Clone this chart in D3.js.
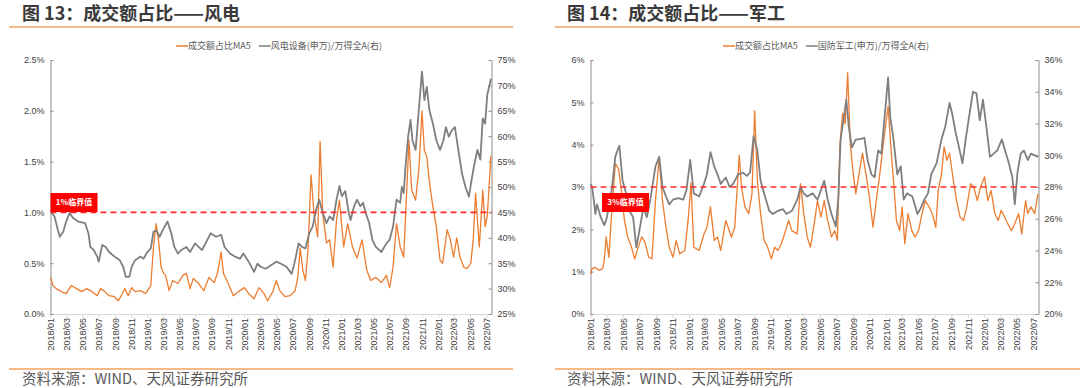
<!DOCTYPE html>
<html>
<head>
<meta charset="utf-8">
<script src="https://cdn.jsdelivr.net/npm/d3@7"></script>
<style>
body { margin: 0; background: #fff; }
svg { display: block; font-family: "Noto Sans CJK SC", "Noto Sans", sans-serif; }
</style>
</head>
<body>
<svg id="chart" width="1080" height="388"></svg>
<script>
const ORANGE = "#ED7D31"
const GRAY = "#7F7F7F"
const SOURCE_TEXT = "资料来源：WIND、天风证券研究所"
const TURNOVER_LABEL = "成交额占比MA5"

// 图13 风电: 成交额占比MA5 (%)
const windTurnover = [
  ["2018-01-02", 0.36], ["2018-01-10", 0.28], ["2018-01-22", 0.25], ["2018-02-11", 0.22], ["2018-03-01", 0.20],
  ["2018-03-20", 0.28], ["2018-04-09", 0.25], ["2018-04-28", 0.22], ["2018-05-18", 0.25], ["2018-06-07", 0.22],
  ["2018-06-26", 0.18], ["2018-07-09", 0.25], ["2018-07-21", 0.23], ["2018-08-10", 0.18], ["2018-08-30", 0.17],
  ["2018-09-13", 0.13], ["2018-09-25", 0.18], ["2018-10-08", 0.25], ["2018-10-21", 0.18], ["2018-11-03", 0.26],
  ["2018-11-16", 0.22], ["2018-12-06", 0.23], ["2018-12-25", 0.20], ["2019-01-14", 0.28], ["2019-01-24", 0.66],
  ["2019-02-03", 0.89], ["2019-02-12", 0.73], ["2019-02-22", 0.46], ["2019-03-03", 0.40], ["2019-03-11", 0.38],
  ["2019-03-24", 0.23], ["2019-04-07", 0.33], ["2019-04-26", 0.30], ["2019-05-15", 0.38], ["2019-05-28", 0.40],
  ["2019-06-11", 0.25], ["2019-06-23", 0.35], ["2019-07-13", 0.30], ["2019-08-02", 0.23], ["2019-08-21", 0.36],
  ["2019-09-10", 0.31], ["2019-09-23", 0.41], ["2019-10-06", 0.61], ["2019-10-15", 0.40], ["2019-11-02", 0.30],
  ["2019-11-21", 0.18], ["2019-12-10", 0.22], ["2020-01-02", 0.26], ["2020-01-18", 0.20], ["2020-02-07", 0.15],
  ["2020-02-26", 0.26], ["2020-03-16", 0.20], ["2020-03-29", 0.13], ["2020-04-18", 0.22], ["2020-05-01", 0.33],
  ["2020-05-14", 0.23], ["2020-06-03", 0.17], ["2020-06-22", 0.18], ["2020-07-11", 0.23], ["2020-07-21", 0.36],
  ["2020-07-30", 0.65], ["2020-08-09", 0.43], ["2020-08-19", 0.33], ["2020-08-29", 0.66], ["2020-09-09", 1.37],
  ["2020-09-21", 0.96], ["2020-10-04", 0.76], ["2020-10-13", 1.70], ["2020-10-23", 0.99], ["2020-11-06", 0.70],
  ["2020-11-18", 0.73], ["2020-12-01", 0.46], ["2020-12-14", 0.93], ["2020-12-25", 1.12], ["2021-01-10", 0.66],
  ["2021-01-25", 0.89], ["2021-02-12", 0.66], ["2021-03-01", 0.55], ["2021-03-20", 0.73], ["2021-04-07", 0.43],
  ["2021-04-22", 0.33], ["2021-05-11", 0.36], ["2021-06-01", 0.31], ["2021-06-20", 0.38], ["2021-07-02", 0.26],
  ["2021-07-15", 0.46], ["2021-07-28", 0.89], ["2021-08-11", 0.66], ["2021-08-24", 0.56], ["2021-09-03", 1.13],
  ["2021-09-13", 1.71], ["2021-09-23", 1.22], ["2021-10-08", 1.12], ["2021-10-21", 1.45], ["2021-11-01", 2.00],
  ["2021-11-10", 1.61], ["2021-11-19", 1.55], ["2021-11-29", 1.30], ["2021-12-12", 1.06], ["2021-12-25", 0.86],
  ["2022-01-08", 0.53], ["2022-01-18", 0.50], ["2022-02-04", 0.83], ["2022-02-16", 0.73], ["2022-02-28", 0.56],
  ["2022-03-12", 0.75], ["2022-03-24", 0.56], ["2022-04-08", 0.46], ["2022-04-20", 0.45], ["2022-05-04", 0.50],
  ["2022-05-13", 0.73], ["2022-05-22", 1.19], ["2022-06-05", 0.66], ["2022-06-18", 1.22], ["2022-06-27", 0.86],
  ["2022-07-05", 0.96], ["2022-07-19", 1.56]
]

// 图13 风电设备(申万)/万得全A (%)
const windRatio = [
  ["2018-01-02", 45.2], ["2018-01-16", 44.2], ["2018-01-29", 41.5], ["2018-02-05", 40.2], ["2018-02-18", 41.2],
  ["2018-03-01", 43.2], ["2018-03-14", 44.9], ["2018-03-27", 43.9], ["2018-04-16", 43.2], ["2018-05-11", 42.9],
  ["2018-05-24", 40.9], ["2018-05-31", 38.2], ["2018-06-13", 37.6], ["2018-06-26", 36.3], ["2018-07-02", 35.3],
  ["2018-07-15", 38.6], ["2018-07-28", 38.2], ["2018-08-10", 37.2], ["2018-08-30", 36.3], ["2018-09-19", 35.6],
  ["2018-10-02", 34.3], ["2018-10-12", 32.3], ["2018-10-25", 32.3], ["2018-11-03", 34.3], ["2018-11-16", 35.6],
  ["2018-12-06", 36.3], ["2018-12-18", 35.9], ["2019-01-01", 37.2], ["2019-01-14", 37.9], ["2019-01-24", 41.2],
  ["2019-02-03", 41.5], ["2019-02-16", 40.2], ["2019-02-28", 41.5], ["2019-03-18", 43.2], ["2019-04-01", 40.9],
  ["2019-04-13", 38.2], ["2019-04-26", 36.9], ["2019-05-09", 37.6], ["2019-05-28", 38.2], ["2019-06-11", 37.2],
  ["2019-06-30", 38.9], ["2019-07-13", 38.2], ["2019-07-26", 37.6], ["2019-08-15", 39.6], ["2019-08-28", 40.9],
  ["2019-09-17", 40.2], ["2019-10-06", 40.6], ["2019-10-19", 38.2], ["2019-11-08", 36.9], ["2019-11-27", 36.3],
  ["2019-12-16", 35.9], ["2019-12-29", 36.9], ["2020-01-18", 35.3], ["2020-02-07", 33.3], ["2020-02-20", 34.9],
  ["2020-03-03", 34.3], ["2020-03-22", 33.9], ["2020-04-11", 34.6], ["2020-05-01", 35.3], ["2020-05-19", 34.9],
  ["2020-06-08", 34.3], ["2020-06-28", 32.9], ["2020-07-11", 35.6], ["2020-07-24", 38.9], ["2020-08-06", 38.2],
  ["2020-08-19", 37.9], ["2020-09-02", 40.9], ["2020-09-15", 42.2], ["2020-09-28", 45.5], ["2020-10-10", 47.5],
  ["2020-10-23", 44.9], ["2020-11-06", 42.9], ["2020-11-18", 44.2], ["2020-12-01", 43.5], ["2020-12-14", 47.5],
  ["2020-12-25", 50.2], ["2021-01-03", 48.2], ["2021-01-16", 49.2], ["2021-01-29", 44.9], ["2021-02-05", 43.5],
  ["2021-02-18", 46.2], ["2021-03-01", 47.5], ["2021-03-14", 46.2], ["2021-03-24", 46.9], ["2021-04-03", 44.9],
  ["2021-04-16", 42.9], ["2021-04-28", 39.6], ["2021-05-11", 38.2], ["2021-06-01", 37.2], ["2021-06-20", 38.9],
  ["2021-07-02", 39.6], ["2021-07-15", 42.2], ["2021-07-28", 47.5], ["2021-08-11", 46.9], ["2021-08-17", 50.0],
  ["2021-08-24", 48.8], ["2021-08-31", 54.0], ["2021-09-10", 60.0], ["2021-09-19", 63.2], ["2021-09-26", 59.2],
  ["2021-10-08", 57.3], ["2021-10-21", 65.8], ["2021-11-01", 72.7], ["2021-11-10", 67.1], ["2021-11-19", 69.7],
  ["2021-11-29", 65.1], ["2021-12-12", 62.5], ["2021-12-25", 59.2], ["2022-01-08", 57.3], ["2022-01-21", 59.2],
  ["2022-01-30", 61.8], ["2022-02-10", 59.9], ["2022-02-22", 61.2], ["2022-03-05", 61.8], ["2022-03-18", 57.3],
  ["2022-04-01", 52.6], ["2022-04-14", 50.0], ["2022-04-27", 48.1], ["2022-05-05", 50.8], ["2022-05-16", 54.1],
  ["2022-05-29", 57.3], ["2022-06-09", 55.4], ["2022-06-18", 63.5], ["2022-06-27", 62.5], ["2022-07-05", 68.1],
  ["2022-07-19", 71.3]
]

// 图14 军工: 成交额占比MA5 (%)
const milTurnover = [
  ["2018-01-02", 0.95], ["2018-01-07", 1.07], ["2018-01-19", 1.10], ["2018-02-02", 1.03], ["2018-02-15", 1.07],
  ["2018-02-21", 1.26], ["2018-02-28", 1.82], ["2018-03-10", 1.34], ["2018-03-22", 2.53], ["2018-04-03", 3.55],
  ["2018-04-15", 3.43], ["2018-04-24", 3.00], ["2018-05-07", 2.21], ["2018-05-19", 1.82], ["2018-06-02", 1.58],
  ["2018-06-14", 1.30], ["2018-06-27", 1.58], ["2018-07-10", 1.82], ["2018-07-22", 1.70], ["2018-08-05", 1.34],
  ["2018-08-17", 1.30], ["2018-08-30", 2.68], ["2018-09-13", 3.71], ["2018-09-25", 2.68], ["2018-10-08", 2.05],
  ["2018-10-20", 1.58], ["2018-11-03", 1.34], ["2018-11-15", 1.74], ["2018-11-28", 1.42], ["2018-12-17", 1.50],
  ["2018-12-29", 2.21], ["2019-01-09", 3.10], ["2019-01-19", 1.58], ["2019-02-08", 1.50], ["2019-02-26", 1.89],
  ["2019-03-09", 2.05], ["2019-03-22", 2.53], ["2019-04-05", 1.74], ["2019-04-17", 1.82], ["2019-04-29", 1.50],
  ["2019-05-18", 2.21], ["2019-06-08", 1.82], ["2019-06-20", 2.05], ["2019-07-07", 3.75], ["2019-07-15", 3.00],
  ["2019-07-28", 2.53], ["2019-08-11", 2.37], ["2019-08-23", 2.84], ["2019-09-02", 4.80], ["2019-09-12", 3.16],
  ["2019-09-24", 2.37], ["2019-10-07", 1.74], ["2019-10-20", 1.58], ["2019-11-03", 1.30], ["2019-11-15", 1.58],
  ["2019-11-27", 1.50], ["2019-12-10", 1.66], ["2019-12-22", 1.89], ["2020-01-06", 2.21], ["2020-01-18", 1.97],
  ["2020-02-07", 1.89], ["2020-02-19", 3.08], ["2020-03-02", 2.37], ["2020-03-15", 1.82], ["2020-03-27", 1.58],
  ["2020-04-10", 2.13], ["2020-04-22", 2.68], ["2020-05-05", 2.29], ["2020-05-17", 2.68], ["2020-05-30", 2.21],
  ["2020-06-13", 1.82], ["2020-06-25", 1.97], ["2020-07-05", 1.74], ["2020-07-14", 3.95], ["2020-07-24", 4.74],
  ["2020-08-03", 4.50], ["2020-08-12", 5.70], ["2020-08-22", 4.00], ["2020-09-02", 3.30], ["2020-09-11", 2.84],
  ["2020-09-23", 3.30], ["2020-10-06", 3.80], ["2020-10-19", 3.30], ["2020-11-01", 2.76], ["2020-11-14", 2.05],
  ["2020-11-26", 2.68], ["2020-12-09", 3.30], ["2020-12-21", 3.95], ["2021-01-09", 4.90], ["2021-01-21", 3.80],
  ["2021-01-29", 3.16], ["2021-02-09", 2.21], ["2021-02-21", 1.97], ["2021-03-02", 2.53], ["2021-03-12", 1.66],
  ["2021-03-24", 2.37], ["2021-04-07", 1.97], ["2021-04-19", 1.82], ["2021-05-02", 1.97], ["2021-05-15", 2.37],
  ["2021-05-27", 2.68], ["2021-06-10", 2.53], ["2021-06-22", 2.37], ["2021-07-05", 2.05], ["2021-07-14", 2.92],
  ["2021-07-26", 3.30], ["2021-08-05", 3.95], ["2021-08-15", 3.63], ["2021-08-25", 3.80], ["2021-09-08", 3.16],
  ["2021-09-20", 2.68], ["2021-10-03", 2.29], ["2021-10-16", 2.21], ["2021-10-28", 2.53], ["2021-11-11", 3.08],
  ["2021-11-23", 3.00], ["2021-12-06", 2.68], ["2021-12-18", 3.00], ["2022-01-02", 3.24], ["2022-01-14", 2.68],
  ["2022-01-26", 2.92], ["2022-02-09", 2.37], ["2022-02-21", 2.21], ["2022-03-05", 2.45], ["2022-03-17", 2.29],
  ["2022-03-29", 2.13], ["2022-04-12", 1.97], ["2022-04-24", 2.13], ["2022-05-08", 2.37], ["2022-05-20", 1.89],
  ["2022-06-03", 2.68], ["2022-06-11", 2.37], ["2022-06-23", 2.53], ["2022-07-07", 2.37], ["2022-07-19", 2.84]
]

// 图14 国防军工(申万)/万得全A (%)
const milRatio = [
  ["2018-01-02", 28.2], ["2018-01-07", 28.0], ["2018-01-13", 27.2], ["2018-01-19", 26.3], ["2018-01-25", 26.9],
  ["2018-02-08", 26.1], ["2018-02-21", 25.6], ["2018-02-28", 25.9], ["2018-03-10", 26.7], ["2018-03-22", 28.0],
  ["2018-04-03", 29.9], ["2018-04-11", 30.3], ["2018-04-18", 30.6], ["2018-04-24", 29.5], ["2018-04-30", 28.4],
  ["2018-05-13", 27.6], ["2018-05-25", 26.5], ["2018-06-08", 26.1], ["2018-06-20", 24.2], ["2018-07-04", 25.5],
  ["2018-07-16", 26.7], ["2018-07-29", 26.1], ["2018-08-11", 27.2], ["2018-08-30", 29.3], ["2018-09-13", 29.9],
  ["2018-09-25", 28.0], ["2018-10-08", 27.4], ["2018-10-20", 26.9], ["2018-11-03", 27.2], ["2018-11-22", 27.3],
  ["2018-12-11", 27.2], ["2018-12-23", 27.8], ["2019-01-06", 29.7], ["2019-01-19", 27.6], ["2019-02-08", 27.4],
  ["2019-02-26", 28.2], ["2019-03-09", 28.8], ["2019-03-22", 30.2], ["2019-04-05", 29.3], ["2019-04-17", 28.8],
  ["2019-04-29", 28.2], ["2019-05-18", 28.6], ["2019-06-01", 28.0], ["2019-06-14", 28.2], ["2019-07-03", 28.8],
  ["2019-07-21", 28.9], ["2019-08-04", 28.7], ["2019-08-16", 28.9], ["2019-08-29", 31.2], ["2019-09-12", 30.3],
  ["2019-09-24", 28.4], ["2019-10-07", 27.6], ["2019-10-26", 26.5], ["2019-11-09", 26.3], ["2019-11-27", 26.5],
  ["2019-12-16", 26.6], ["2019-12-29", 26.3], ["2020-01-18", 26.5], ["2020-02-07", 27.2], ["2020-02-19", 28.0],
  ["2020-03-02", 27.6], ["2020-03-15", 27.4], ["2020-04-04", 27.6], ["2020-04-22", 27.2], ["2020-05-05", 27.8],
  ["2020-05-17", 28.4], ["2020-05-30", 27.2], ["2020-06-13", 26.3], ["2020-06-29", 25.5], ["2020-07-08", 27.2],
  ["2020-07-17", 31.0], ["2020-07-27", 32.2], ["2020-08-07", 33.5], ["2020-08-16", 31.8], ["2020-08-28", 30.5],
  ["2020-09-11", 31.0], ["2020-09-23", 31.0], ["2020-10-13", 31.1], ["2020-10-25", 29.7], ["2020-11-08", 28.8],
  ["2020-11-20", 28.6], ["2020-12-03", 30.3], ["2020-12-15", 30.1], ["2020-12-28", 32.6], ["2021-01-09", 34.9],
  ["2021-01-17", 32.4], ["2021-01-29", 31.0], ["2021-02-12", 28.8], ["2021-02-25", 29.3], ["2021-03-08", 27.2],
  ["2021-03-20", 27.6], ["2021-04-09", 27.4], ["2021-04-28", 26.3], ["2021-05-11", 26.7], ["2021-05-23", 27.2],
  ["2021-06-06", 27.6], ["2021-06-18", 28.8], ["2021-07-08", 29.5], ["2021-07-26", 31.0], ["2021-08-09", 31.8],
  ["2021-08-25", 33.3], ["2021-09-04", 32.6], ["2021-09-17", 31.4], ["2021-09-29", 30.5], ["2021-10-12", 29.5],
  ["2021-10-24", 31.0], ["2021-11-07", 32.6], ["2021-11-20", 34.0], ["2021-12-03", 33.9], ["2021-12-15", 32.2],
  ["2021-12-27", 33.5], ["2022-01-10", 31.6], ["2022-01-22", 29.9], ["2022-02-05", 30.1], ["2022-02-18", 30.3],
  ["2022-03-07", 31.0], ["2022-03-19", 30.3], ["2022-04-02", 29.5], ["2022-04-15", 28.6], ["2022-04-24", 26.9],
  ["2022-05-04", 28.9], ["2022-05-16", 30.1], ["2022-05-28", 30.3], ["2022-06-11", 29.7], ["2022-06-23", 30.1],
  ["2022-07-19", 29.9]
]

const parseDate = d3.timeParse("%Y-%m-%d")
const xDomain = [parseDate("2018-01-01"), parseDate("2022-07-21")]
const xTicks = d3.timeMonth.range(parseDate("2018-01-01"), parseDate("2022-08-01"), 2)

const svg = d3.select("#chart")

const drawPanel = (cfg) => {
    const x = d3.scaleTime().domain(xDomain).range([cfg.left, cfg.right])
    const yLeft = d3.scaleLinear().domain(cfg.leftDomain).range([cfg.bottom, cfg.top])
    const yRight = d3.scaleLinear().domain(cfg.rightDomain).range([cfg.bottom, cfg.top])

    // title and the orange rules
    svg.append("text")
        .attr("x", cfg.titleX)
        .attr("y", 20)
        .attr("fill", "#3a3a3a")
        .style("font-size", "18px")
        .style("font-weight", "bold")
        .text(cfg.title)
    svg.append("line")
        .attr("x1", cfg.ruleX0).attr("x2", cfg.ruleX1)
        .attr("y1", 27).attr("y2", 27)
        .attr("stroke", "#F5A35F").attr("stroke-width", 1.5)
    svg.append("line")
        .attr("x1", cfg.ruleX0).attr("x2", cfg.ruleX1)
        .attr("y1", 369).attr("y2", 369)
        .attr("stroke", "#F5A35F").attr("stroke-width", 1.5)
    svg.append("text")
        .attr("x", cfg.titleX)
        .attr("y", 384)
        .attr("fill", "#595959")
        .style("font-size", "14.5px")
        .text(SOURCE_TEXT)

    // legend
    const legend = svg.append("g").attr("transform", `translate(${cfg.legendX},46)`)
    let lx = 0
    const items = [[TURNOVER_LABEL, ORANGE], [cfg.ratioLabel, GRAY]]
    items.forEach(([label, color]) => {
        legend.append("line")
            .attr("x1", lx).attr("x2", lx + 12)
            .attr("stroke", color).attr("stroke-width", 1.5)
        const t = legend.append("text")
            .attr("x", lx + 12)
            .attr("dy", "0.35em")
            .attr("fill", "#595959")
            .style("font-size", "9px")
            .text(label)
        lx += 12 + t.node().getComputedTextLength() + 8
    })

    // axes
    const xAxisGroup = svg.append("g")
        .attr("transform", `translate(0,${cfg.bottom})`)
        .call(d3.axisBottom(x).tickValues(xTicks).tickFormat(d3.timeFormat("%Y/%m")).tickSize(4).tickSizeOuter(0))
    xAxisGroup.select(".domain").attr("stroke", "#d9d9d9")
    xAxisGroup.selectAll(".tick line").attr("stroke", "#d9d9d9")
    xAxisGroup.selectAll(".tick text")
        .attr("transform", "rotate(-90)")
        .attr("text-anchor", "end")
        .attr("x", -4)
        .attr("y", 0)
        .attr("dy", "0.35em")
        .attr("fill", "#404040")
        .style("font-size", "9px")

    const leftAxisGroup = svg.append("g")
        .attr("transform", `translate(${cfg.left},0)`)
        .call(d3.axisLeft(yLeft).tickValues(cfg.leftTicks).tickFormat(cfg.leftFormat).tickSize(-3).tickSizeOuter(0).tickPadding(6))
    const rightAxisGroup = svg.append("g")
        .attr("transform", `translate(${cfg.right},0)`)
        .call(d3.axisRight(yRight).tickValues(cfg.rightTicks).tickFormat(d => d + "%").tickSize(-3).tickSizeOuter(0).tickPadding(6))
    ;[leftAxisGroup, rightAxisGroup].forEach(g => {
        g.select(".domain").attr("stroke", "#8c8c8c")
        g.selectAll(".tick line").attr("stroke", "#8c8c8c")
        g.selectAll(".tick text").attr("fill", "#404040").style("font-size", "9px")
    })

    // lines
    const turnoverLine = d3.line()
        .x(d => x(parseDate(d[0])))
        .y(d => yLeft(d[1]))
    const ratioLine = d3.line()
        .x(d => x(parseDate(d[0])))
        .y(d => yRight(d[1]))

    svg.append("path")
        .datum(cfg.turnover)
        .attr("d", turnoverLine)
        .attr("fill", "none")
        .attr("stroke", ORANGE)
        .attr("stroke-width", 1.3)
        .attr("stroke-linejoin", "round")
    svg.append("path")
        .datum(cfg.ratio)
        .attr("d", ratioLine)
        .attr("fill", "none")
        .attr("stroke", GRAY)
        .attr("stroke-width", 1.8)
        .attr("stroke-linejoin", "round")

    // threshold line and label
    svg.append("line")
        .attr("x1", cfg.left).attr("x2", cfg.right)
        .attr("y1", yLeft(cfg.threshold)).attr("y2", yLeft(cfg.threshold))
        .attr("stroke", "#FF2A2A")
        .attr("stroke-width", 1.6)
        .attr("stroke-dasharray", "6,4")
    svg.append("rect")
        .attr("x", cfg.boxX).attr("y", cfg.boxY)
        .attr("width", 47).attr("height", 19)
        .attr("fill", "#FF0000")
    svg.append("text")
        .attr("x", cfg.boxX + 23.5).attr("y", cfg.boxY + 9.5)
        .attr("dy", "0.35em")
        .attr("text-anchor", "middle")
        .attr("fill", "#fff")
        .style("font-size", "8px")
        .style("font-weight", "bold")
        .text(cfg.threshold + "%临界值")
}

drawPanel({
    title: "图 13：成交额占比——风电",
    titleX: 22, ruleX0: 9, ruleX1: 513,
    legendX: 176,
    ratioLabel: "风电设备(申万)/万得全A(右)",
    left: 50.5, right: 491.5, top: 60, bottom: 314,
    leftDomain: [0, 2.5], leftTicks: [0, 0.5, 1.0, 1.5, 2.0, 2.5], leftFormat: d => d.toFixed(1) + "%",
    rightDomain: [25, 75], rightTicks: [25, 30, 35, 40, 45, 50, 55, 60, 65, 70, 75],
    turnover: windTurnover, ratio: windRatio,
    threshold: 1, boxX: 50.5, boxY: 193
})

drawPanel({
    title: "图 14：成交额占比——军工",
    titleX: 567, ruleX0: 555, ruleX1: 1080,
    legendX: 723,
    ratioLabel: "国防军工(申万)/万得全A(右)",
    left: 590.5, right: 1038.5, top: 60, bottom: 314,
    leftDomain: [0, 6], leftTicks: [0, 1, 2, 3, 4, 5, 6], leftFormat: d => d + "%",
    rightDomain: [20, 36], rightTicks: [20, 22, 24, 26, 28, 30, 32, 34, 36],
    turnover: milTurnover, ratio: milRatio,
    threshold: 3, boxX: 602, boxY: 193
})
</script>
</body>
</html>
